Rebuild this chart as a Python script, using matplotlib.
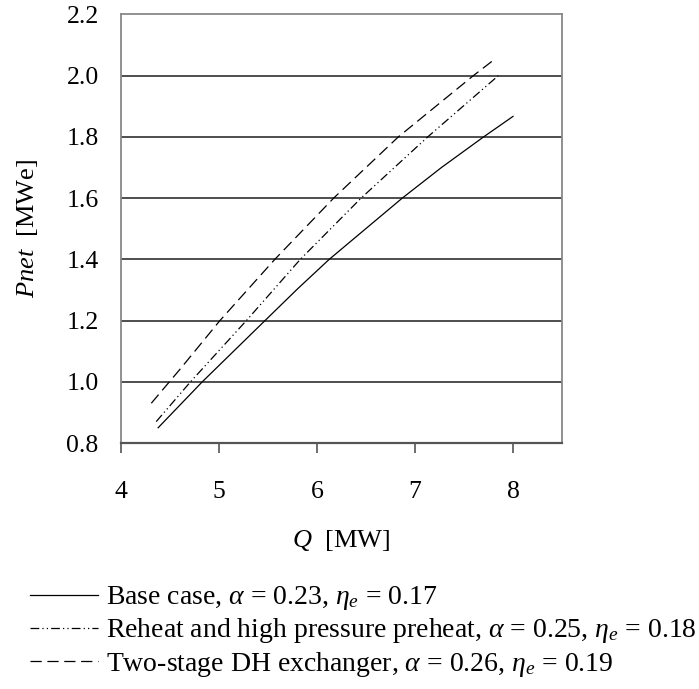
import matplotlib
matplotlib.use("Agg")
import matplotlib.pyplot as plt

plt.rcParams['font.family'] = ['Liberation Serif', 'DejaVu Serif']
plt.rcParams['mathtext.fontset'] = 'custom'
plt.rcParams['mathtext.rm'] = 'Liberation Serif'
plt.rcParams['mathtext.it'] = 'Liberation Serif:italic'

# Data
base_q = [4.38, 4.83, 5.47, 5.80, 6.125, 6.87, 7.27, 7.70, 8.0]
base_p = [0.85, 1.0, 1.2, 1.303, 1.4, 1.6, 1.70, 1.8, 1.867]
reheat_q = [4.36, 4.71, 5.28, 5.83, 6.45, 7.13, 7.85]
reheat_p = [0.87, 1.0, 1.2, 1.4, 1.6, 1.8, 2.0]
twostage_q = [4.31, 4.6, 5.01, 5.57, 6.17, 6.83, 7.595, 7.81]
twostage_p = [0.93, 1.04, 1.2, 1.4, 1.6, 1.8, 2.0, 2.053]

labels = [r"Base case, $\alpha$ = 0.23, $\eta_e$ = 0.17",
          r"Reheat and high pressure preheat, $\alpha$ = 0.25, $\eta_e$ = 0.18",
          r"Two-stage DH exchanger, $\alpha$ = 0.26, $\eta_e$ = 0.19"]
xticks = [4, 5, 6, 7, 8]
yticks = [0.8, 1.0, 1.2, 1.4, 1.6, 1.8, 2.0, 2.2]

fig = plt.figure(figsize=(6.99, 6.89), dpi=100)
ax = fig.add_axes([0.173, 0.357, 0.631, 0.622])

ax.plot(base_q, base_p, color='black', lw=0.9, ls='-', label=labels[0])
ax.plot(reheat_q, reheat_p, color='black', lw=0.9, ls=(0, (7, 2.5, 1, 2.5, 1, 2.5)), label=labels[1])
ax.plot(twostage_q, twostage_p, color='black', lw=0.9, ls=(0, (9, 4.5)), label=labels[2])

ax.set_xlim(4, 8.5)
ax.set_ylim(0.8, 2.2)
ax.set_xticks(xticks)
ax.set_yticks(yticks)
ax.set_xticklabels([str(v) for v in xticks])
ax.set_yticklabels([f"{v:.1f}" for v in yticks])
ax.tick_params(axis='x', direction='out', length=7, width=1.2, color='#555555', pad=20, labelsize=18.5)
ax.tick_params(axis='y', length=0, pad=16, labelsize=18.5)

for y in yticks[1:-1]:
    ax.axhline(y, color='#404040', lw=1.3, zorder=1)
for s in ['left', 'top', 'right']:
    ax.spines[s].set_color('#888888')
    ax.spines[s].set_linewidth(1.3)
ax.spines['bottom'].set_color('#555555')
ax.spines['bottom'].set_linewidth(1.6)

ax.set_xlabel(r"$\mathit{Q}$  [MW]", fontsize=19, labelpad=18)
ax.set_ylabel(r"$\mathit{Pnet}$  [MWe]", fontsize=19, labelpad=19)

fig.legend(loc='upper left', bbox_to_anchor=(0.043, 0.152), frameon=False,
           fontsize=20, handlelength=2.45, handletextpad=0.28, labelspacing=0.15,
           borderaxespad=0, borderpad=0)

fig.savefig("out.png", dpi=100)
